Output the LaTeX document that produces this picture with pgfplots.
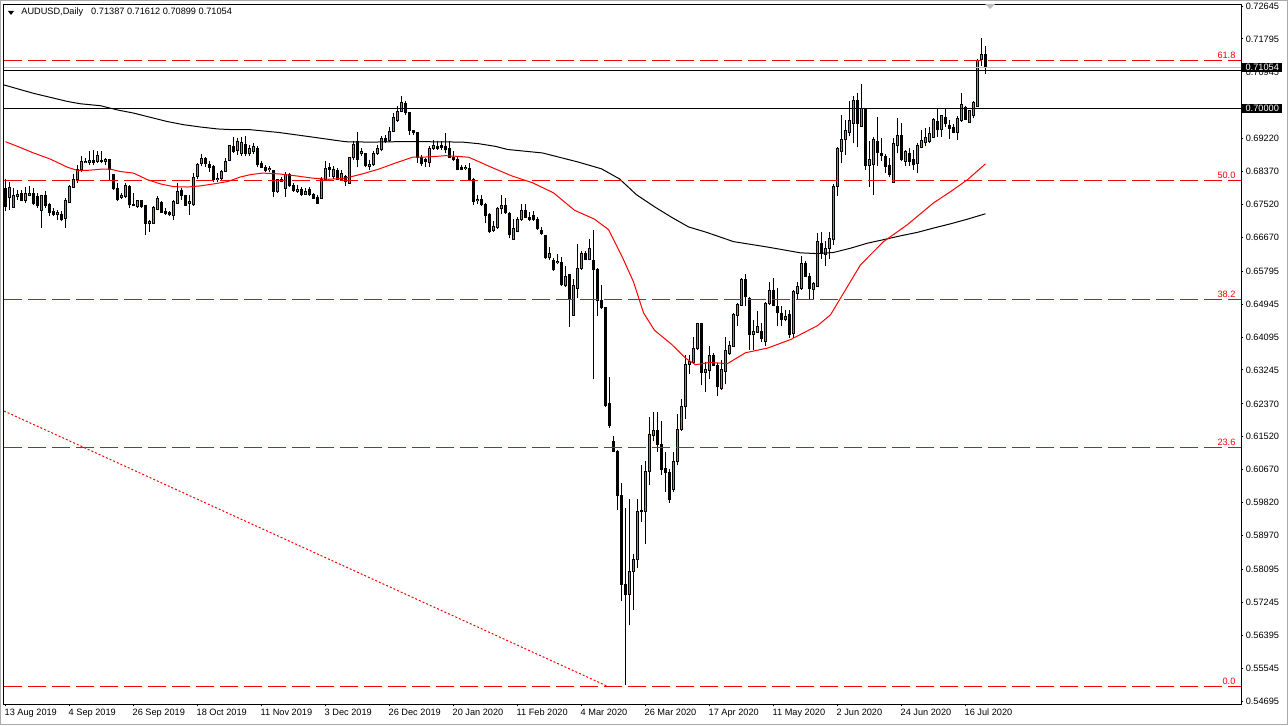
\documentclass[border=0pt]{standalone}
\usepackage{fontspec}
\setmainfont{Liberation Sans}
\usepackage{pgfplots}
\usepackage{pgfplotstable}
\pgfplotsset{compat=1.18}
\definecolor{bull}{RGB}{30,210,30}
\definecolor{bidgray}{RGB}{192,192,192}
\definecolor{winframe}{RGB}{170,170,170}
\pgfplotstableread{
i o h l c
0 0.6794 0.6818 0.6734 0.6747
1 0.6771 0.6810 0.6738 0.6797
2 0.6745 0.6794 0.6743 0.6774
3 0.6773 0.6790 0.6764 0.6777
4 0.6779 0.6790 0.6760 0.6762
5 0.6762 0.6797 0.6757 0.6779
6 0.6775 0.6800 0.6773 0.6781
7 0.6781 0.6794 0.6751 0.6755
8 0.6773 0.6781 0.6743 0.6749
9 0.6736 0.6777 0.6691 0.6775
10 0.6774 0.6786 0.6743 0.6749
11 0.6751 0.6757 0.6721 0.6731
12 0.6734 0.6743 0.6721 0.6725
13 0.6726 0.6738 0.6712 0.6732
14 0.6725 0.6734 0.6708 0.6712
15 0.6717 0.6768 0.6691 0.6762
16 0.6757 0.6803 0.6755 0.6798
17 0.6797 0.6830 0.6794 0.6817
18 0.6816 0.6854 0.6807 0.6843
19 0.6841 0.6878 0.6837 0.6862
20 0.6860 0.6872 0.6859 0.6863
21 0.6861 0.6889 0.6854 0.6865
22 0.6865 0.6893 0.6854 0.6860
23 0.6863 0.6889 0.6859 0.6878
24 0.6866 0.6890 0.6859 0.6862
25 0.6864 0.6872 0.6854 0.6867
26 0.6867 0.6869 0.6816 0.6841
27 0.6829 0.6831 0.6790 0.6792
28 0.6792 0.6807 0.6760 0.6764
29 0.6770 0.6781 0.6766 0.6774
30 0.6773 0.6807 0.6768 0.6800
31 0.6798 0.6803 0.6743 0.6751
32 0.6751 0.6781 0.6747 0.6749
33 0.6747 0.6764 0.6743 0.6761
34 0.6761 0.6764 0.6744 0.6747
35 0.6749 0.6751 0.6674 0.6704
36 0.6704 0.6712 0.6682 0.6708
37 0.6704 0.6747 0.6702 0.6743
38 0.6738 0.6773 0.6737 0.6768
39 0.6757 0.6760 0.6730 0.6731
40 0.6734 0.6743 0.6725 0.6728
41 0.6731 0.6734 0.6721 0.6725
42 0.6723 0.6764 0.6712 0.6760
43 0.6755 0.6807 0.6754 0.6786
44 0.6787 0.6794 0.6764 0.6774
45 0.6774 0.6777 0.6747 0.6749
46 0.6754 0.6777 0.6725 0.6760
47 0.6751 0.6833 0.6747 0.6822
48 0.6824 0.6859 0.6817 0.6855
49 0.6857 0.6883 0.6852 0.6870
50 0.6870 0.6874 0.6850 0.6857
51 0.6854 0.6863 0.6835 0.6848
52 0.6850 0.6854 0.6811 0.6816
53 0.6816 0.6833 0.6811 0.6820
54 0.6818 0.6840 0.6814 0.6837
55 0.6837 0.6872 0.6835 0.6863
56 0.6865 0.6904 0.6863 0.6903
57 0.6902 0.6927 0.6884 0.6889
58 0.6891 0.6923 0.6880 0.6914
59 0.6884 0.6926 0.6878 0.6913
60 0.6906 0.6929 0.6876 0.6884
61 0.6883 0.6906 0.6878 0.6897
62 0.6889 0.6910 0.6883 0.6902
63 0.6897 0.6902 0.6848 0.6854
64 0.6859 0.6863 0.6846 0.6848
65 0.6848 0.6854 0.6837 0.6840
66 0.6841 0.6852 0.6835 0.6846
67 0.6840 0.6841 0.6771 0.6786
68 0.6786 0.6817 0.6781 0.6816
69 0.6811 0.6823 0.6809 0.6816
70 0.6794 0.6837 0.6771 0.6829
71 0.6829 0.6833 0.6798 0.6800
72 0.6800 0.6807 0.6783 0.6788
73 0.6786 0.6803 0.6781 0.6790
74 0.6790 0.6797 0.6773 0.6777
75 0.6777 0.6794 0.6777 0.6786
76 0.6790 0.6797 0.6773 0.6777
77 0.6777 0.6781 0.6766 0.6768
78 0.6771 0.6777 0.6754 0.6755
79 0.6768 0.6824 0.6766 0.6817
80 0.6817 0.6863 0.6816 0.6846
81 0.6848 0.6860 0.6824 0.6843
82 0.6823 0.6852 0.6817 0.6843
83 0.6840 0.6846 0.6816 0.6817
84 0.6817 0.6841 0.6816 0.6833
85 0.6824 0.6829 0.6800 0.6811
86 0.6807 0.6874 0.6805 0.6872
87 0.6872 0.6915 0.6867 0.6906
88 0.6915 0.6940 0.6848 0.6867
89 0.6884 0.6897 0.6878 0.6889
90 0.6883 0.6884 0.6848 0.6852
91 0.6850 0.6867 0.6840 0.6854
92 0.6854 0.6889 0.6852 0.6884
93 0.6884 0.6906 0.6880 0.6897
94 0.6893 0.6929 0.6889 0.6923
95 0.6923 0.6932 0.6912 0.6915
96 0.6917 0.6953 0.6914 0.6940
97 0.6940 0.6989 0.6938 0.6977
98 0.6969 0.7005 0.6966 0.6992
99 0.6992 0.7032 0.6990 0.7015
100 0.7012 0.7018 0.6983 0.6989
101 0.6989 0.6992 0.6932 0.6943
102 0.6943 0.6945 0.6932 0.6938
103 0.6938 0.6940 0.6859 0.6872
104 0.6872 0.6880 0.6852 0.6859
105 0.6867 0.6872 0.6850 0.6863
106 0.6860 0.6902 0.6850 0.6897
107 0.6897 0.6919 0.6893 0.6903
108 0.6902 0.6915 0.6893 0.6897
109 0.6903 0.6915 0.6893 0.6899
110 0.6902 0.6936 0.6884 0.6893
111 0.6897 0.6915 0.6872 0.6874
112 0.6874 0.6889 0.6863 0.6867
113 0.6867 0.6876 0.6840 0.6843
114 0.6848 0.6854 0.6840 0.6843
115 0.6845 0.6854 0.6840 0.6848
116 0.6846 0.6859 0.6814 0.6816
117 0.6816 0.6820 0.6751 0.6760
118 0.6762 0.6777 0.6754 0.6766
119 0.6766 0.6777 0.6749 0.6751
120 0.6751 0.6755 0.6704 0.6723
121 0.6725 0.6730 0.6678 0.6682
122 0.6685 0.6708 0.6682 0.6695
123 0.6692 0.6746 0.6689 0.6741
124 0.6741 0.6777 0.6728 0.6750
125 0.6750 0.6768 0.6728 0.6730
126 0.6728 0.6732 0.6665 0.6674
127 0.6662 0.6714 0.6660 0.6689
128 0.6683 0.6719 0.6680 0.6714
129 0.6714 0.6752 0.6710 0.6737
130 0.6737 0.6752 0.6716 0.6719
131 0.6719 0.6732 0.6710 0.6714
132 0.6723 0.6734 0.6710 0.6714
133 0.6714 0.6719 0.6686 0.6689
134 0.6686 0.6694 0.6674 0.6678
135 0.6671 0.6674 0.6611 0.6614
136 0.6614 0.6641 0.6608 0.6626
137 0.6606 0.6614 0.6581 0.6584
138 0.6602 0.6623 0.6598 0.6605
139 0.6602 0.6615 0.6542 0.6544
140 0.6542 0.6593 0.6539 0.6566
141 0.6571 0.6572 0.6436 0.6508
142 0.6465 0.6560 0.6465 0.6542
143 0.6536 0.6651 0.6510 0.6587
144 0.6587 0.6632 0.6584 0.6626
145 0.6626 0.6633 0.6608 0.6611
146 0.6611 0.6662 0.6608 0.6638
147 0.6608 0.6687 0.6301 0.6584
148 0.6584 0.6589 0.6463 0.6503
149 0.6503 0.6544 0.6483 0.6485
150 0.6485 0.6488 0.6229 0.6234
151 0.6238 0.6306 0.6175 0.6180
152 0.6141 0.6153 0.6114 0.6114
153 0.6114 0.6117 0.5962 0.6000
154 0.6000 0.6032 0.5728 0.5771
155 0.5771 0.5969 0.5511 0.5744
156 0.5744 0.5991 0.5665 0.5805
157 0.5805 0.5848 0.5704 0.5836
158 0.5834 0.5991 0.5812 0.5960
159 0.5962 0.6078 0.5933 0.5960
160 0.5960 0.6090 0.5875 0.6063
161 0.6063 0.6204 0.6027 0.6159
162 0.6156 0.6216 0.6140 0.6168
163 0.6168 0.6216 0.6113 0.6131
164 0.6131 0.6192 0.6054 0.6068
165 0.6069 0.6113 0.6009 0.6059
166 0.6059 0.6068 0.5982 0.5991
167 0.6016 0.6113 0.6009 0.6088
168 0.6088 0.6211 0.6078 0.6171
169 0.6171 0.6249 0.6168 0.6231
170 0.6231 0.6364 0.6198 0.6339
171 0.6339 0.6362 0.6315 0.6346
172 0.6344 0.6409 0.6342 0.6380
173 0.6380 0.6447 0.6375 0.6445
174 0.6445 0.6447 0.6285 0.6319
175 0.6319 0.6344 0.6267 0.6325
176 0.6324 0.6387 0.6300 0.6362
177 0.6362 0.6368 0.6334 0.6336
178 0.6336 0.6343 0.6257 0.6282
179 0.6276 0.6351 0.6274 0.6325
180 0.6321 0.6410 0.6287 0.6374
181 0.6368 0.6399 0.6364 0.6387
182 0.6386 0.6472 0.6384 0.6467
183 0.6465 0.6497 0.6437 0.6493
184 0.6491 0.6562 0.6489 0.6558
185 0.6558 0.6573 0.6489 0.6513
186 0.6510 0.6513 0.6377 0.6416
187 0.6416 0.6454 0.6377 0.6424
188 0.6422 0.6478 0.6420 0.6436
189 0.6424 0.6446 0.6396 0.6407
190 0.6399 0.6499 0.6386 0.6497
191 0.6497 0.6553 0.6493 0.6530
192 0.6530 0.6562 0.6489 0.6491
193 0.6489 0.6536 0.6437 0.6473
194 0.6470 0.6489 0.6437 0.6456
195 0.6456 0.6480 0.6450 0.6463
196 0.6467 0.6480 0.6407 0.6416
197 0.6420 0.6532 0.6407 0.6528
198 0.6522 0.6553 0.6508 0.6540
199 0.6534 0.6618 0.6532 0.6599
200 0.6599 0.6605 0.6565 0.6566
201 0.6565 0.6575 0.6508 0.6536
202 0.6532 0.6553 0.6508 0.6547
203 0.6540 0.6678 0.6539 0.6657
204 0.6652 0.6682 0.6611 0.6625
205 0.6622 0.6657 0.6592 0.6639
206 0.6637 0.6682 0.6611 0.6663
207 0.6661 0.6805 0.6648 0.6798
208 0.6798 0.6900 0.6774 0.6897
209 0.6889 0.6983 0.6859 0.6921
210 0.6919 0.6970 0.6880 0.6943
211 0.6938 0.7018 0.6929 0.6969
212 0.6962 0.7031 0.6910 0.7020
213 0.7020 0.7041 0.6900 0.6962
214 0.6953 0.7063 0.6953 0.7001
215 0.6998 0.7001 0.6841 0.6852
216 0.6852 0.6915 0.6798 0.6867
217 0.6854 0.6926 0.6777 0.6921
218 0.6915 0.6977 0.6852 0.6886
219 0.6884 0.6923 0.6863 0.6878
220 0.6876 0.6883 0.6833 0.6850
221 0.6852 0.6872 0.6824 0.6829
222 0.6809 0.6923 0.6809 0.6909
223 0.6903 0.6975 0.6884 0.6929
224 0.6929 0.6962 0.6863 0.6867
225 0.6863 0.6893 0.6852 0.6889
226 0.6883 0.6897 0.6852 0.6863
227 0.6867 0.6893 0.6841 0.6854
228 0.6859 0.6910 0.6833 0.6903
229 0.6900 0.6945 0.6900 0.6917
230 0.6912 0.6949 0.6903 0.6926
231 0.6915 0.6953 0.6910 0.6934
232 0.6926 0.6975 0.6923 0.6972
233 0.6966 0.7001 0.6926 0.6945
234 0.6945 0.6983 0.6927 0.6981
235 0.6977 0.7001 0.6953 0.6960
236 0.6955 0.6970 0.6921 0.6949
237 0.6952 0.6960 0.6936 0.6938
238 0.6938 0.6981 0.6919 0.6975
239 0.6970 0.7039 0.6966 0.7009
240 0.7003 0.7005 0.6969 0.6972
241 0.6964 0.6996 0.6962 0.6995
242 0.6981 0.7018 0.6975 0.7015
243 0.7005 0.7127 0.7003 0.7125
244 0.7127 0.7181 0.7110 0.7140
245 0.71387 0.71612 0.70899 0.71054
}\candles
\newcommand{\mtfont}{\fontsize{4.6}{5.5}\selectfont}
\begin{document}
\begin{tikzpicture}[x=1pt,y=1pt]
\useasboundingbox (0,0) rectangle (644,362.5);
\fill[white] (0,0) rectangle (644,362.5);
\draw[winframe, line width=0.5pt] (0.25,0.25) rectangle (643.75,362.25);
\begin{axis}[
  at={(2pt,10.5pt)}, anchor=south west,
  scale only axis, width=618.5pt, height=350pt,
  xmin=-0.375, xmax=308.875, ymin=0.54618, ymax=0.72697,
  axis line style={black, line width=0.5pt},
  xtick pos=bottom, ytick pos=right, yticklabel pos=right,
  tick align=outside, major tick length=1.2pt, minor tick num=0,
  tick style={black, line width=0.5pt},
  xtick={0,16,32,48,64,80,96,112,128,144,160,176,192,208,224,240},
  xticklabels={13 Aug 2019,4 Sep 2019,26 Sep 2019,18 Oct 2019,11 Nov 2019,3 Dec 2019,26 Dec 2019,20 Jan 2020,11 Feb 2020,4 Mar 2020,26 Mar 2020,17 Apr 2020,11 May 2020,2 Jun 2020,24 Jun 2020,16 Jul 2020},
  xticklabel style={anchor=north west, inner sep=0pt, font=\mtfont, xshift=-0.6pt, yshift=-1.2pt},
  ytick={0.54695,0.55545,0.56395,0.57245,0.58095,0.58970,0.59820,0.60670,0.61520,0.62370,0.63245,0.64095,0.64945,0.65795,0.66670,0.67520,0.68370,0.69220,0.70945,0.71795,0.72645},
  yticklabels={0.54695,0.55545,0.56395,0.57245,0.58095,0.58970,0.59820,0.60670,0.61520,0.62370,0.63245,0.64095,0.64945,0.65795,0.66670,0.67520,0.68370,0.69220,0.70945,0.71795,0.72645},
  yticklabel style={anchor=west, inner sep=0pt, font=\mtfont, xshift=1.0pt},
  clip=true,
]
% wicks
\addplot[color=black, draw=none, mark=none, forget plot,
  error bars/.cd, y dir=plus, y explicit, error mark=none,
  error bar style={color=black, line width=0.5pt, solid}]
  table[x=i, y=l, y error expr={\thisrow{h}-\thisrow{l}}] {\candles};
% bodies (outline / bearish fill)
\addplot[color=black, draw=none, mark=none, forget plot,
  error bars/.cd, y dir=plus, y explicit, error mark=none,
  error bar style={color=black, line width=1.6pt, solid}]
  table[x=i, y expr={min(\thisrow{o},\thisrow{c})-0.000129}, y error expr={abs(\thisrow{c}-\thisrow{o})+0.000258}] {\candles};
% bullish fill (green core of rising candles)
\addplot[bull, line width=0.75pt, forget plot,
  restrict expr to domain={\thisrow{c}-\thisrow{o}}{0.0003:1},
  quiver={u=0, v={\thisrow{c}-\thisrow{o}-0.000258}, every arrow/.append style={-}}]
  table[x=i, y expr={\thisrow{o}+0.000129}] {\candles};
% 200-day MA (black)
\addplot[black, line width=0.5pt, mark=none] coordinates {
(-0.5,0.7061) (7,0.7039) (15.5,0.7018) (18.75,0.7012) (23.75,0.7007) (28,0.6996) (32,0.6988) (36.25,0.6977) (40.5,0.6966) (44.5,0.6958) (48.75,0.6952) (53,0.6947) (57,0.6945) (61.25,0.6945) (68.25,0.6938) (76.75,0.6926) (85,0.6914) (91.25,0.6913) (97.5,0.6914) (105.75,0.6914) (114.25,0.6913) (118.25,0.6909) (122.5,0.6902) (125.5,0.6894) (134.25,0.6885) (143,0.6862) (149,0.6844) (153.5,0.6818) (157.75,0.6777) (162.25,0.6746) (166.5,0.6719) (170.75,0.6694) (175.25,0.6680) (182,0.6656) (190.5,0.6642) (198.75,0.6627) (203,0.6625) (207,0.6628) (211.25,0.6639) (215.5,0.6652) (219.5,0.6661) (223.75,0.6671) (228,0.6680) (232,0.6691) (236.25,0.6702) (240.5,0.6714) (245,0.6728)
};
% 50-day MA (red)
\addplot[red, line width=0.5pt, mark=none] coordinates {
(0,0.6914) (3,0.6902) (7,0.6885) (11.25,0.6869) (15.5,0.6848) (18,0.6840) (20.5,0.6840) (23.75,0.6843) (26.25,0.6843) (28.75,0.6837) (32,0.6833) (35.5,0.6816) (38.75,0.6805) (42,0.6798) (45.5,0.6797) (48.75,0.6800) (52,0.6805) (55.5,0.6811) (58.75,0.6823) (61.25,0.6829) (64.25,0.6833) (68.25,0.6831) (72.5,0.6826) (76.75,0.6820) (80.75,0.6817) (85,0.6820) (89.25,0.6831) (93.25,0.6843) (97.5,0.6859) (101.75,0.6874) (104.25,0.6874) (107.5,0.6876) (110,0.6878) (113.25,0.6876) (115.75,0.6874) (118.25,0.6863) (121.25,0.6849) (126.5,0.6826) (131.75,0.6808) (137,0.6782) (142.25,0.6737) (147.25,0.6714) (150.75,0.6687) (154.25,0.6615) (157,0.6552) (159.5,0.6472) (162.25,0.6427) (166.5,0.6391) (170,0.6355) (172.5,0.6338) (176,0.6344) (180.5,0.6341) (185,0.6369) (190.5,0.6381) (196.25,0.6403) (203,0.6439) (206.25,0.6467) (209.5,0.6523) (213.75,0.6596) (219.5,0.6656) (225.5,0.6700) (232,0.6756) (236.25,0.6785) (240.5,0.6816) (245,0.6857)
};
% horizontal lines
\addplot[bidgray, line width=0.5pt] coordinates {(-1,0.71054) (310,0.71054)};
\addplot[black, line width=0.5pt] coordinates {(-1,0.7098) (310,0.7098)};
\addplot[black, line width=0.5pt] coordinates {(-1,0.70000) (310,0.70000)};
% Fibonacci levels
\addplot[red, line width=0.5pt, dash pattern=on 9pt off 3pt] coordinates {(-0.375,0.71235) (308.875,0.71235)};
\addplot[red, line width=0.5pt, dash pattern=on 9pt off 3pt] coordinates {(-0.375,0.68150) (308.875,0.68150)};
\addplot[red, line width=0.5pt, dash pattern=on 9pt off 3pt] coordinates {(-0.375,0.65065) (308.875,0.65065)};
\addplot[red, line width=0.5pt, dash pattern=on 9pt off 3pt] coordinates {(-0.375,0.61249) (308.875,0.61249)};
\addplot[red, line width=0.5pt, dash pattern=on 9pt off 3pt] coordinates {(-0.375,0.55083) (308.875,0.55083)};
% Fibonacci trend line
\addplot[red, line width=0.5pt, dash pattern=on 1pt off 1pt] coordinates {(-0.375,0.62185) (150.375,0.55083)};
\coordinate (f618) at (axis cs:308.875,0.71235);
\coordinate (f500) at (axis cs:308.875,0.68150);
\coordinate (f382) at (axis cs:308.875,0.65065);
\coordinate (f236) at (axis cs:308.875,0.61249);
\coordinate (f000) at (axis cs:308.875,0.55083);
\coordinate (bid) at (axis cs:308.875,0.71054);
\coordinate (lvl) at (axis cs:308.875,0.70000);
\end{axis}
\foreach \c/\t in {f618/61.8,f500/50.0,f382/38.2,f236/23.6,f000/0.0}
  \node[anchor=south east, inner sep=0pt, text=red, font=\mtfont, xshift=-2.6pt, yshift=0.6pt] at (\c) {\t};
\node[anchor=west, fill=black, text=white, font=\mtfont, inner xsep=1.6pt, inner ysep=0pt, minimum height=4.8pt] at ([xshift=0.5pt]bid) {0.71054};
\node[anchor=west, fill=black, text=white, font=\mtfont, inner xsep=1.6pt, inner ysep=0pt, minimum height=4.8pt] at ([xshift=0.5pt]lvl) {0.70000};
% header
\fill[black] (4,357) -- (7,357) -- (5.5,355) -- cycle;
\node[anchor=west, inner sep=0pt, font=\mtfont] at (10.5,356.2) {AUDUSD,Daily\hspace{4pt}0.71387 0.71612 0.70899 0.71054};
% chart shift marker
\fill[gray!50] (492.5,360.5) -- (497.5,360.5) -- (495,358) -- cycle;
\end{tikzpicture}
\end{document}
